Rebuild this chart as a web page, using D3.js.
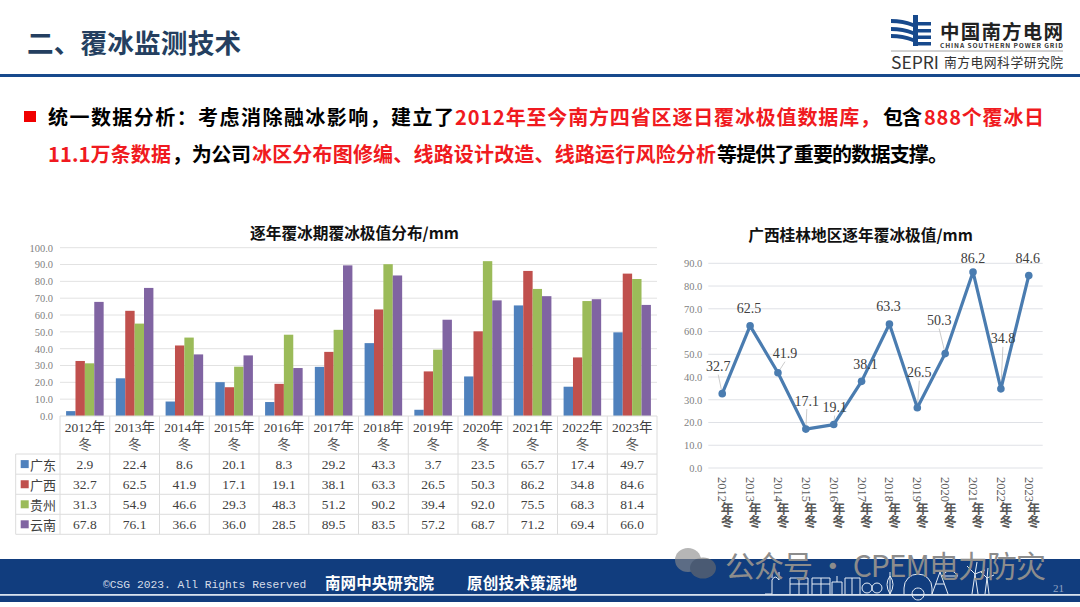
<!DOCTYPE html>
<html lang="zh"><head><meta charset="utf-8">
<script src="https://cdn.jsdelivr.net/npm/d3@7"></script>
<style>
html,body{margin:0;padding:0;background:#fff;overflow:hidden}
svg{display:block}
.sans{font-family:"Noto Sans CJK SC","Noto Sans",sans-serif}
.serif{font-family:"Liberation Serif","Noto Sans CJK SC",serif}
.axis path,.axis line{display:none}
</style></head><body>
<svg id="c" width="1080" height="607"></svg>
<script>
const years=["2012","2013","2014","2015","2016","2017","2018","2019","2020","2021","2022","2023"];
const seriesNames=["广东","广西","贵州","云南"];
const guangdong=[2.9,22.4,8.6,20.1,8.3,29.2,43.3,3.7,23.5,65.7,17.4,49.7];
const guangxi=[32.7,62.5,41.9,17.1,19.1,38.1,63.3,26.5,50.3,86.2,34.8,84.6];
const guizhou=[31.3,54.9,46.6,29.3,48.3,51.2,90.2,39.4,92.0,75.5,68.3,81.4];
const yunnan=[67.8,76.1,36.6,36.0,28.5,89.5,83.5,57.2,68.7,71.2,69.4,66.0];
const guilin=[32.7,62.5,41.9,17.1,19.1,38.1,63.3,26.5,50.3,86.2,34.8,84.6];
const barTicks=[0,10,20,30,40,50,60,70,80,90,100];
const lineTicks=[0,10,20,30,40,50,60,70,80,90];
const seriesColors=["#4f81bd","#c0504d","#9bbb59","#8064a2"];
const barSeries=[guangdong,guangxi,guizhou,yunnan];
// label placement relative to each point, and whether a leader line is drawn
const labelDx=[-4,-1,7,1,1,4,-1,2,-6,0,2,-1];
const labelDy=[-27,-17,-19,-28,-17,-17,-18,-35,-33,-13,-50,-17];
const labelLeader=[1,0,1,1,1,0,0,1,1,0,1,0];

const svg=d3.select("#c");
const t=(x,y,s,o={})=>svg.append("text").attr("x",x).attr("y",y).text(s)
  .attr("class",o.cls||"sans").attr("font-size",o.size||14).attr("fill",o.fill||"#000")
  .attr("font-weight",o.weight||400).attr("text-anchor",o.anchor||"start")
  .attr("dominant-baseline","central").attr("opacity",o.op==null?1:o.op);
const fit=(x,x2,y,s,o)=>t(x,y,s,o).attr("textLength",x2-x).attr("lengthAdjust","spacing");

/* header */
fit(27,241,41,"二、覆冰监测技术",{size:26.6,weight:700,fill:"#243f60"});
svg.append("rect").attr("x",0).attr("y",74).attr("width",1080).attr("height",3).attr("fill","#17498c");
/* logo */
const logo=svg.append("g").attr("fill","#17498c");
logo.append("rect").attr("x",913).attr("y",15).attr("width",5).attr("height",31);
[[918,22,13],[918,29,13],[918,35.5,13],[918,42,13]].forEach(r=>logo.append("rect").attr("x",r[0]).attr("y",r[1]).attr("width",r[2]).attr("height",3.5));
["M891 19 Q903 19 913 23 V27 Q903 23 891 23Z","M891 27 Q903 27 913 31 V35 Q903 31 891 31Z","M891 34 Q903 34 913 38 V42 Q903 38 891 38Z"].forEach(d=>logo.append("path").attr("d",d));
fit(940,1063,30,"中国南方电网",{size:19.5,weight:700,fill:"#222"});
fit(940,1063,44.5,"CHINA SOUTHERN POWER GRID",{size:6.6,weight:700,fill:"#333",cls:"sans"});
svg.append("line").attr("x1",891).attr("x2",1063).attr("y1",51).attr("y2",51).attr("stroke","#8a8a8a").attr("stroke-width",.8);
fit(891,939,61,"SEPRI",{size:17.5,fill:"#333",cls:"sans"});
fit(944,1063,61,"南方电网科学研究院",{size:12.8,fill:"#333"});

/* body text */
const red="#f01a20";
svg.append("rect").attr("x",24).attr("y",111).attr("width",12).attr("height",11).attr("fill","#f00000");
const B={size:20,weight:700};
fit(48,454,116,"统一数据分析：考虑消除融冰影响，建立了",{...B});
fit(455,880,116,"2012年至今南方四省区逐日覆冰极值数据库，",{...B,fill:red});
fit(883,922,116,"包含",{...B});
fit(924,1044,116,"888个覆冰日",{...B,fill:red});
fit(48,171,153,"11.1万条数据",{...B,fill:red});
fit(172,251,153,"，为公司",{...B});
fit(252,716,153,"冰区分布图修编、线路设计改造、线路运行风险分析",{...B,fill:red});
fit(717,948,153,"等提供了重要的数据支撑。",{...B});

/* bar chart */
const bx0=60,bx1=657,by0=416,by1=247.7;
const x=d3.scaleBand().domain(years).range([bx0,bx1]).paddingInner(.245).paddingOuter(.1225);
const col=d3.scaleBand().domain(years).range([bx0,bx1]);
const sub=d3.scaleBand().domain(seriesNames).range([0,x.bandwidth()]);
const y=d3.scaleLinear().domain([0,100]).range([by0,by1]);
t(354.5,232,"逐年覆冰期覆冰极值分布/mm",{size:15.7,weight:700,anchor:"middle",fill:"#111"});
svg.append("g").selectAll("line").data(barTicks.slice(1)).join("line")
  .attr("x1",bx0).attr("x2",bx1).attr("y1",d=>y(d)).attr("y2",d=>y(d)).attr("stroke","#e2e2e2").attr("stroke-width",1);
const ay=svg.append("g").attr("class","axis serif").attr("transform",`translate(${bx0-5},0)`)
  .call(d3.axisLeft(y).tickValues(barTicks).tickFormat(d3.format(".1f")).tickSize(0).tickPadding(2));
ay.selectAll("text").attr("font-size",10.5).attr("fill","#7f7f7f").style("font-family","Liberation Serif");
seriesNames.forEach((n,i)=>{
  svg.append("g").selectAll("rect").data(barSeries[i]).join("rect")
    .attr("x",(d,j)=>x(years[j])+sub(n)).attr("width",sub.bandwidth())
    .attr("y",d=>y(d)).attr("height",d=>by0-y(d)).attr("fill",seriesColors[i]);
});
/* data table */
const rowTop=[454,474.2,494.3,514.3,534.3];
const grid=svg.append("g").attr("stroke","#dcdcdc").attr("stroke-width",1);
grid.append("line").attr("x1",bx0).attr("x2",bx1).attr("y1",by0).attr("y2",by0);
rowTop.forEach(r=>grid.append("line").attr("x1",15.7).attr("x2",bx1).attr("y1",r).attr("y2",r));
d3.range(13).forEach(i=>{const X=bx0+i*col.step();grid.append("line").attr("x1",X).attr("x2",X).attr("y1",by0).attr("y2",534.3);});
grid.append("line").attr("x1",15.7).attr("x2",15.7).attr("y1",454).attr("y2",534.3);
years.forEach((yr,j)=>{
  const cx=col(yr)+col.bandwidth()/2;
  t(cx,427.5,yr+"年",{cls:"serif",size:13.5,anchor:"middle",fill:"#404040"});
  t(cx,444,"冬",{cls:"serif",size:13.5,anchor:"middle",fill:"#595959"});
  seriesNames.forEach((n,i)=>t(cx,(rowTop[i]+rowTop[i+1])/2,barSeries[i][j].toFixed(1),{cls:"serif",size:13.5,anchor:"middle",fill:"#404040"}));
});
seriesNames.forEach((n,i)=>{
  const cy=(rowTop[i]+rowTop[i+1])/2;
  svg.append("rect").attr("x",20.7).attr("y",cy-4).attr("width",8).attr("height",8).attr("fill",seriesColors[i]);
  fit(30,56,cy,n,{size:13,fill:"#404040"});
});

/* line chart */
const lx0=708.3,lx1=1042.7,ly0=468,ly1=263.3;
const lx=d3.scalePoint().domain(years).range([lx0,lx1]).padding(.5);
const ly=d3.scaleLinear().domain([0,90]).range([ly0,ly1]);
t(860.5,234,"广西桂林地区逐年覆冰极值/mm",{size:15.7,weight:700,anchor:"middle",fill:"#111"});
svg.append("g").selectAll("line").data(lineTicks).join("line")
  .attr("x1",lx0).attr("x2",lx1).attr("y1",d=>ly(d)).attr("y2",d=>ly(d)).attr("stroke","#dfe1e6");
const al=svg.append("g").attr("class","axis serif").attr("transform",`translate(${lx0-4},0)`)
  .call(d3.axisLeft(ly).tickValues(lineTicks).tickFormat(d3.format(".1f")).tickSize(0).tickPadding(2));
al.selectAll("text").attr("font-size",10.5).attr("fill","#7f7f7f").style("font-family","Liberation Serif");
guilin.forEach((v,j)=>{
  if(!labelLeader[j])return;
  svg.append("line").attr("x1",lx(years[j])+labelDx[j]).attr("y1",ly(v)+labelDy[j]+8)
    .attr("x2",lx(years[j])).attr("y2",ly(v)).attr("stroke","#bfbfbf").attr("stroke-width",.8);
});
svg.append("path").datum(guilin)
  .attr("d",d3.line().x((d,j)=>lx(years[j])).y(d=>ly(d)))
  .attr("fill","none").attr("stroke","#4a7cb0").attr("stroke-width",3.2).attr("stroke-linejoin","round");
svg.append("g").selectAll("circle").data(guilin).join("circle")
  .attr("cx",(d,j)=>lx(years[j])).attr("cy",d=>ly(d)).attr("r",3.8).attr("fill","#4a7cb0");
guilin.forEach((v,j)=>t(lx(years[j])+labelDx[j],ly(v)+labelDy[j],v.toFixed(1),{cls:"serif",size:14,anchor:"middle",fill:"#404040"}));
years.forEach(yr=>{
  const g=svg.append("text").attr("x",lx(yr)).attr("y",477).attr("fill","#595959")
    .style("writing-mode","vertical-rl").attr("class","serif").attr("font-size",12.5);
  g.append("tspan").text(yr);
  g.append("tspan").attr("dx",5).attr("class","sans").attr("font-weight",700).attr("font-size",13).text("年冬");
});

/* footer */
svg.append("rect").attr("x",0).attr("y",559).attr("width",1080).attr("height",43).attr("fill","#113d7e");
svg.append("rect").attr("x",0).attr("y",594).attr("width",1080).attr("height",1.8).attr("fill","#d8e2ee");
t(103,585,"©CSG 2023. All Rights Reserved",{size:11.3,fill:"#d5dce8"}).style("font-family","Liberation Mono");
fit(325,434,582,"南网中央研究院",{size:15.5,fill:"#fff",weight:700});
fit(467,577,582,"原创技术策源地",{size:15.5,fill:"#fff",weight:700});
t(1053,588,"21",{size:11,fill:"#90a4c4",cls:"serif"});
const deco=svg.append("g").attr("fill","none").attr("stroke","#e6edf5").attr("stroke-width",1);
["M765 594 H772 V580 Q775 574 779 580 M779 580 V572 M772 578 V574",
 "M790 594 V578 H808 V594 M790 584 H808 M799 578 V594",
 "M812 594 V578 H830 V594 M812 584 H830 M821 578 V594",
 "M832 594 V582 H842 V594 M837 582 V576 M845 594 V578 H860 V594 M852 578 V594",
 "M862 588 a5 5 0 1 0 10 0 a5 5 0 1 0 -10 0 M872 588 a5 5 0 1 0 10 0 a5 5 0 1 0 -10 0",
 "M890 594 Q884 584 890 576 Q896 584 890 594 M890 572 V594",
 "M904 588 a14 14 0 1 1 28 0 M918 588 a6 6 0 1 0 .1 0 M904 588 V594 M932 588 V594",
 "M932 594 L940 572 L948 594 M936 584 H944 M942 576 Q950 565 958 576 H942",
 "M972 594 L975 574 L978 594 M975 574 L967 566 M975 574 L985 570 M975 574 L977 562",
 "M985 594 L987 578 L989 594 M987 578 L981 572 M987 578 L994 575 M987 578 L988 568"
].forEach(d=>deco.append("path").attr("d",d));

/* watermark */
const wm=svg.append("g").attr("opacity",.62);
wm.append("ellipse").attr("cx",688).attr("cy",560).attr("rx",13).attr("ry",12).attr("fill","#8a8a8a");
wm.append("ellipse").attr("cx",703).attr("cy",568).attr("rx",13).attr("ry",10.5).attr("fill","#6d6d6d");
fit(725,1046,564,"公众号 · CPEM电力防灾",{size:30,fill:"#8c8c8c"});
</script>
</body></html>
